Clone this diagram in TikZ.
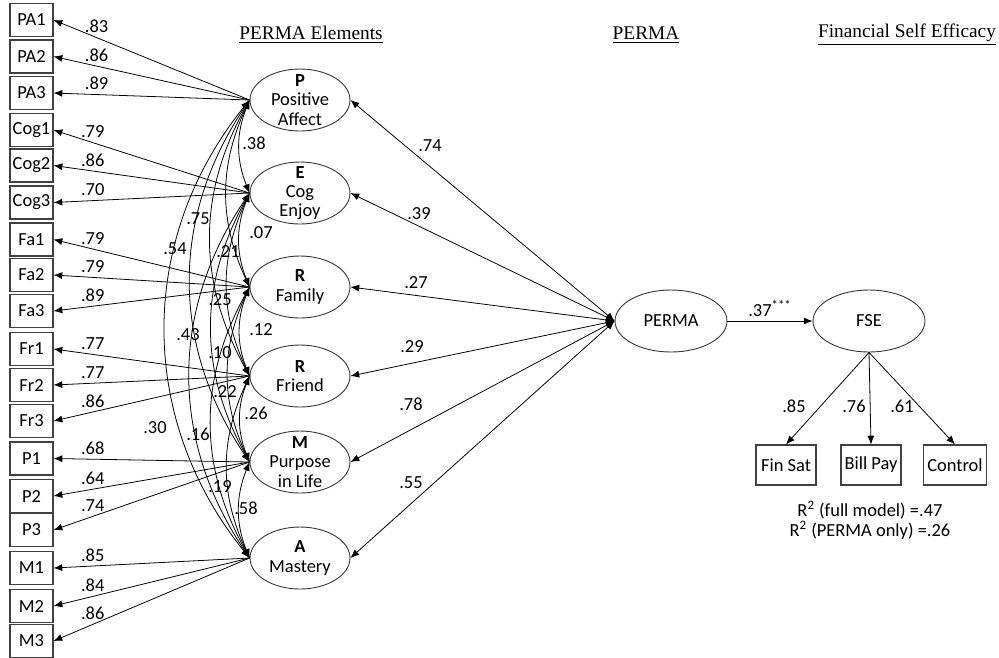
\documentclass[tikz,border=0pt]{standalone}
\usepackage{fontspec}
\setmainfont{Carlito}
\newfontfamily\cabecalho{Liberation Serif}
\usetikzlibrary{shapes.geometric,arrows.meta}

\tikzset{
  indicador/.style={draw=black!75, line width=0.6pt, minimum width=0.86cm, minimum height=0.66cm, inner sep=1pt, font=\fontsize{10.5}{12}\selectfont},
  resultado/.style={draw=black!75, line width=0.6pt, minimum width=1.2cm, minimum height=0.8cm, inner sep=2pt, font=\fontsize{10.5}{12}\selectfont},
  fator/.style={draw=black!80, ellipse, line width=0.5pt, minimum width=2cm, minimum height=1.24cm, inner xsep=0pt, inner ysep=-9pt, align=center, font=\fontsize{10.5}{11}\selectfont},
  latente/.style={draw=black!80, ellipse, line width=0.5pt, minimum width=2.24cm, minimum height=1.24cm, inner sep=0pt, font=\fontsize{10.5}{12}\selectfont},
  carga/.style={-{Latex[length=5pt,width=4pt]}, line width=0.45pt},
  correl/.style={{Latex[length=5pt,width=4pt]}-{Latex[length=5pt,width=4pt]}, line width=0.45pt},
  coef/.style={font=\fontsize{10.5}{12}\selectfont, inner sep=1pt},
  titulo/.style={font=\cabecalho\fontsize{11}{13}\selectfont}
}

\begin{document}
\begin{tikzpicture}[x=0.02cm, y=-0.02cm] %cada unidade equivale a um pixel da figura original

\useasboundingbox (0,0) rectangle (999,657);

%Os titulos das colunas sao sublinhados e usam uma fonte serifada
%---------------------------------------------------
\node[titulo] (tElem) at (311,35) {\underline{PERMA Elements}};
\node[titulo] (tPerma) at (646,35) {\underline{PERMA}};
\node[titulo] (tFse) at (907,35) {\underline{Financial Self Efficacy}};
%---------------------------------------------------

%Os indicadores observados ficam empilhados na margem esquerda, um abaixo do outro
%---------------------------------------------------
\node[indicador] (PA1) at (31.5,20) {PA1};
\node[indicador] (PA2) at (31.5,56.5) {PA2};
\node[indicador] (PA3) at (31.5,93) {PA3};
\node[indicador] (Cog1) at (31.5,130) {Cog1};
\node[indicador] (Cog2) at (31.5,165.5) {Cog2};
\node[indicador] (Cog3) at (31.5,202.5) {Cog3};
\node[indicador] (Fa1) at (31.5,239.5) {Fa1};
\node[indicador] (Fa2) at (31.5,275) {Fa2};
\node[indicador] (Fa3) at (31.5,311) {Fa3};
\node[indicador] (Fr1) at (31.5,349) {Fr1};
\node[indicador] (Fr2) at (31.5,385) {Fr2};
\node[indicador] (Fr3) at (31.5,421) {Fr3};
\node[indicador] (P1) at (31.5,458.5) {P1};
\node[indicador] (P2) at (31.5,496) {P2};
\node[indicador] (P3) at (31.5,530) {P3};
\node[indicador] (M1) at (31.5,568) {M1};
\node[indicador] (M2) at (31.5,606) {M2};
\node[indicador] (M3) at (31.5,641) {M3};
%---------------------------------------------------

%Os seis elementos do PERMA sao elipses na mesma vertical
%---------------------------------------------------
\node[fator] (fP) at (300,100) {\textbf{P}\\Positive\\Affect};
\node[fator] (fE) at (300,193) {\textbf{E}\\Cog\\Enjoy};
\node[fator] (fFam) at (300,287) {\textbf{R}\\Family};
\node[fator] (fFr) at (300,376) {\textbf{R}\\Friend};
\node[fator] (fM) at (300,462) {\textbf{M}\\Purpose\\in Life};
\node[fator] (fA) at (300,558) {\textbf{A}\\Mastery};
%---------------------------------------------------

%Fatores de segunda ordem e os indicadores da autoeficacia financeira
%---------------------------------------------------
\node[latente] (perma) at (671,321) {PERMA};
\node[latente] (fse) at (869,321) {FSE};
\node[resultado] (finsat) at (786,465) {Fin Sat};
\node[resultado] (billpay) at (871,465) {Bill Pay};
\node[resultado] (control) at (955,465) {Control};
%---------------------------------------------------

%Cargas fatoriais: de cada elipse ate os seus tres indicadores
%---------------------------------------------------
\draw[carga] (fP.west) to node[coef, pos=0.78, above=1.5pt] {.83} (PA1.east);
\draw[carga] (fP.west) to node[coef, pos=0.78, above=1.5pt] {.86} (PA2.east);
\draw[carga] (fP.west) to node[coef, pos=0.78, above=1.5pt] {.89} (PA3.east);
\draw[carga] (fE.west) to node[coef, pos=0.8, above=1.5pt] {.79} (Cog1.east);
\draw[carga] (fE.west) to node[coef, pos=0.8, above=1.5pt] {.86} (Cog2.east);
\draw[carga] (fE.west) to node[coef, pos=0.8, above=1.5pt] {.70} (Cog3.east);
\draw[carga] (fFam.west) to node[coef, pos=0.8, above=1.5pt] {.79} (Fa1.east);
\draw[carga] (fFam.west) to node[coef, pos=0.8, above=1.5pt] {.79} (Fa2.east);
\draw[carga] (fFam.west) to node[coef, pos=0.8, above=1.5pt] {.89} (Fa3.east);
\draw[carga] (fFr.west) to node[coef, pos=0.8, above=1.5pt] {.77} (Fr1.east);
\draw[carga] (fFr.west) to node[coef, pos=0.8, above=1.5pt] {.77} (Fr2.east);
\draw[carga] (fFr.west) to node[coef, pos=0.8, above=1.5pt] {.86} (Fr3.east);
\draw[carga] (fM.west) to node[coef, pos=0.8, above=1.5pt] {.68} (P1.east);
\draw[carga] (fM.west) to node[coef, pos=0.8, above=1.5pt] {.64} (P2.east);
\draw[carga] (fM.west) to node[coef, pos=0.8, above=1.5pt] {.74} (P3.east);
\draw[carga] (fA.west) to node[coef, pos=0.8, above=1.5pt] {.85} (M1.east);
\draw[carga] (fA.west) to node[coef, pos=0.8, above=1.5pt] {.84} (M2.east);
\draw[carga] (fA.west) to node[coef, pos=0.8, above=1.5pt] {.86} (M3.east);
%---------------------------------------------------

%Correlacoes entre os elementos: arcos para a esquerda, mais abertos quanto maior a distancia
%---------------------------------------------------
\draw[correl] (fP.west) to[bend right=22] (fE.west);
\draw[correl] (fE.west) to[bend right=22] (fFam.west);
\draw[correl] (fFam.west) to[bend right=22] (fFr.west);
\draw[correl] (fFr.west) to[bend right=22] (fM.west);
\draw[correl] (fM.west) to[bend right=22] (fA.west);
\draw[correl] (fP.west) to[bend right=25] (fFam.west);
\draw[correl] (fE.west) to[bend right=25] (fFr.west);
\draw[correl] (fFam.west) to[bend right=25] (fM.west);
\draw[correl] (fFr.west) to[bend right=25] (fA.west);
\draw[correl] (fP.west) to[bend right=29] (fFr.west);
\draw[correl] (fE.west) to[bend right=29] (fM.west);
\draw[correl] (fFam.west) to[bend right=29] (fA.west);
\draw[correl] (fP.west) to[bend right=34] (fM.west);
\draw[correl] (fE.west) to[bend right=34] (fA.west);
\draw[correl] (fP.west) to[bend right=39] (fA.west);
%---------------------------------------------------

%Valores das correlacoes, colocados nas posicoes da figura
%---------------------------------------------------
\node[coef] (c38) at (254,143) {.38};
\node[coef] (c07) at (261,233) {.07};
\node[coef] (c12) at (261,330) {.12};
\node[coef] (c26) at (256,413) {.26};
\node[coef] (c58) at (246,508) {.58};
\node[coef] (c75) at (198,219) {.75};
\node[coef] (c54) at (175,249) {.54};
\node[coef] (c21) at (228,252) {.21};
\node[coef] (c25) at (220,300) {.25};
\node[coef] (c43) at (188,335) {.43};
\node[coef] (c10) at (220,353) {.10};
\node[coef] (c22) at (225,392) {.22};
\node[coef] (c30) at (155,428) {.30};
\node[coef] (c16) at (198,434) {.16};
\node[coef] (c19) at (220,487) {.19};
%---------------------------------------------------

%Do PERMA ate cada elemento, com seta nas duas pontas
%---------------------------------------------------
\draw[correl] (perma.west) to (fP.east);
\draw[correl] (perma.west) to (fE.east);
\draw[correl] (perma.west) to (fFam.east);
\draw[correl] (perma.west) to (fFr.east);
\draw[correl] (perma.west) to (fM.east);
\draw[correl] (perma.west) to (fA.east);
\node[coef] (s74) at (430,146) {.74};
\node[coef] (s39) at (419,214) {.39};
\node[coef] (s27) at (416,283) {.27};
\node[coef] (s29) at (412,347) {.29};
\node[coef] (s78) at (411,404) {.78};
\node[coef] (s55) at (411,483) {.55};
%---------------------------------------------------

%Caminho estrutural e cargas da autoeficacia financeira
%---------------------------------------------------
\draw[carga] (perma.east) to node[coef, above=1pt] {.37\textsuperscript{***}} (fse.west);
\draw[carga] (fse.south) to (finsat.north);
\draw[carga] (fse.south) to (billpay.north);
\draw[carga] (fse.south) to (control.north);
\node[coef] (f85) at (794,406) {.85};
\node[coef] (f76) at (854,406) {.76};
\node[coef] (f61) at (902,406) {.61};
\node[coef] (r2a) at (870,510) {R\textsuperscript{2} (full model) =.47};
\node[coef] (r2b) at (870,530) {R\textsuperscript{2} (PERMA only) =.26};
%---------------------------------------------------

\end{tikzpicture}
\end{document}
